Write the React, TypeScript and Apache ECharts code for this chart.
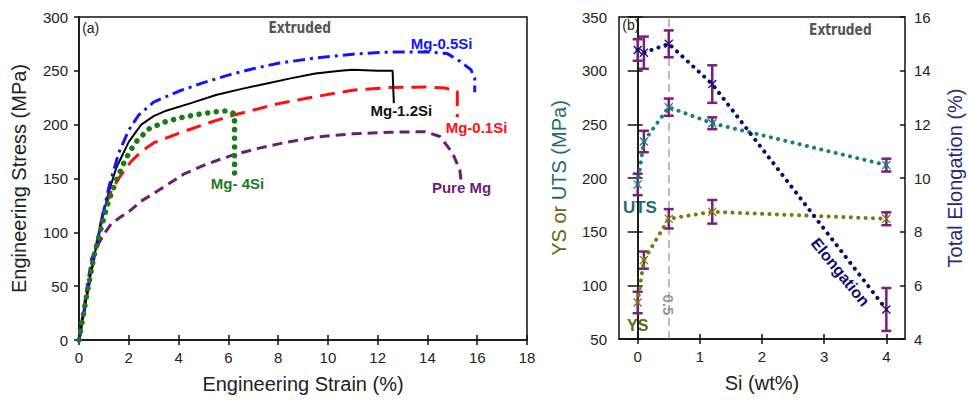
import React, { useEffect, useRef } from "react";
import * as echarts from "echarts";

// ---------- Panel (a): stress-strain curves ----------
const pureMgStrain = [0, 0.5, 0.8, 1.05, 1.3, 1.6, 2.1, 2.5, 3.2, 4.2, 5.2, 6.2, 7.2, 8.2, 9.5, 11.0, 12.5, 13.9, 14.5, 15.0, 15.3, 15.35];
const pureMgStress = [0, 75, 90, 100, 108, 113, 121, 129, 139, 154, 164, 172, 178, 183, 188.5, 191.5, 193, 193.5, 189, 174, 158, 148];

const mg01Strain = [0, 0.5, 0.95, 1.3, 1.65, 2.1, 2.5, 3.0, 4.0, 5.0, 6.0, 7.0, 8.0, 9.5, 11.0, 12.5, 14.0, 14.7, 15.2, 15.2];
const mg01Stress = [0, 65, 117, 139, 152, 166, 175, 183, 192, 200, 207.5, 213.5, 219.5, 226, 232, 234.5, 235, 234, 231, 207];

const mg05Strain = [0, 0.5, 0.9, 1.2, 1.6, 2.0, 2.4, 3.0, 4.0, 5.0, 6.0, 7.0, 8.0, 9.5, 11.0, 12.5, 14.0, 14.8, 15.3, 15.75, 15.9, 15.9];
const mg05Stress = [0, 65, 110, 142, 174, 195, 209, 221, 231, 239, 246, 252, 257, 262, 265.5, 267.5, 267.5, 266, 259, 251, 243, 230];

const mg12Strain = [0, 0.5, 0.9, 1.2, 1.5, 2.0, 2.5, 3.0, 3.5, 4.5, 5.5, 6.5, 7.5, 8.5, 9.5, 10.5, 11.0, 12.0, 12.6, 12.65];
const mg12Stress = [0, 65, 110, 138, 160, 184, 200, 208, 213, 220, 227.5, 233, 238, 243, 247.5, 250, 251, 250, 250, 220];

const mg4Strain = [0, 0.3, 0.6, 0.9, 1.2, 1.5, 1.85, 2.25, 2.8, 3.5, 4.2, 4.9, 5.5, 6.0, 6.25, 6.25];
const mg4Stress = [0, 40, 78, 105, 130, 148, 167, 183, 196, 203, 207, 210, 212, 213, 210, 155];

// ---------- Panel (b): properties vs Si ----------
const siWt = [0, 0.1, 0.5, 1.2, 4];
const uts = [194, 234, 266, 251, 212];
const utsErr = [10, 10, 8, 5.5, 6];
const ys = [84, 123.5, 162, 168.5, 162];
const ysErr = [10, 8, 9, 11, 6];
const elong = [14.77, 14.67, 15.0, 13.5, 5.1];
const elongErr = [0.4, 0.6, 0.5, 0.7, 0.8];
const siTicks = [0, 1, 2, 3, 4];

const FONT = "'Liberation Sans', Arial, sans-serif";
const C_BLUE = "#1414ff";
const C_RED = "#ff1010";
const C_PURPLE = "#6b1f72";
const C_GREEN = "#1c7a1c";
const C_TEAL = "#17807a";
const C_TEAL_T = "#1d6d6a";
const C_OLIVE = "#7a7a12";
const C_OLIVE_T = "#66660f";
const C_NAVY = "#0c0c6e";
const C_ERR = "#7b1f7e";

const zip = (a: number[], b: number[]) => a.map((v, i) => [v, b[i]]);
const X_SYMBOL = "path://M0,1 L1,0 L5,4 L9,0 L10,1 L6,5 L10,9 L9,10 L5,6 L1,10 L0,9 L4,5 Z";

const errRender = (params: any, api: any) => {
  const x = api.value(0);
  const lo = api.coord([x, api.value(1)]);
  const hi = api.coord([x, api.value(2)]);
  const w = 5;
  const st = { stroke: C_ERR, lineWidth: 2.5 };
  return {
    type: "group",
    children: [
      { type: "line", shape: { x1: lo[0], y1: lo[1], x2: hi[0], y2: hi[1] }, style: st },
      { type: "line", shape: { x1: lo[0] - w, y1: lo[1], x2: lo[0] + w, y2: lo[1] }, style: st },
      { type: "line", shape: { x1: hi[0] - w, y1: hi[1], x2: hi[0] + w, y2: hi[1] }, style: st },
    ],
  };
};

const labelStyle = { fontSize: 15, color: "#222", fontFamily: FONT };
const nameStyle = { fontSize: 20, color: "#222", fontFamily: FONT };
const axisLine = { show: true, lineStyle: { color: "#111", width: 1.5 } };

export default function App() {
  const ref = useRef<HTMLDivElement>(null);
  useEffect(() => {
    const chart = echarts.init(ref.current!, null, { renderer: "svg" });
    const dotLine = (color: string) => ({ color, width: 4, type: [0.1, 7.3], cap: "round" });
    const option: any = {
      animation: false,
      grid: [
        { left: 79, top: 17, width: 448, bottom: 60, show: true, borderColor: "#111", borderWidth: 1.5 },
        { left: 619, top: 17, width: 286, bottom: 61, show: true, borderColor: "#111", borderWidth: 1.5 },
      ],
      xAxis: [
        {
          type: "value", gridIndex: 0, min: 0, max: 18, interval: 2,
          name: "Engineering Strain (%)", nameLocation: "middle", nameGap: 34, nameTextStyle: nameStyle,
          axisLine, axisTick: { show: true, length: 5, lineStyle: { color: "#111", width: 1.5 } },
          axisLabel: { ...labelStyle, margin: 10 }, splitLine: { show: false },
        },
        {
          type: "value", gridIndex: 0, min: 0, max: 18, interval: 2, position: "bottom",
          axisLine: { show: false }, axisLabel: { show: false }, splitLine: { show: false },
          axisTick: { show: true, inside: true, length: 5, lineStyle: { color: "#111", width: 1.5 } },
        },
        {
          type: "value", gridIndex: 1, min: -0.3, max: 4.3,
          name: "Si (wt%)", nameLocation: "middle", nameGap: 34, nameTextStyle: nameStyle,
          axisLine, axisTick: { show: true, length: 5, customValues: siTicks, lineStyle: { color: "#111", width: 1.5 } },
          axisLabel: { ...labelStyle, margin: 10, customValues: siTicks }, splitLine: { show: false },
        },
        {
          type: "value", gridIndex: 1, min: -0.3, max: 4.3, position: "bottom",
          axisLine: { show: false }, axisLabel: { show: false }, splitLine: { show: false },
          axisTick: { show: true, inside: true, length: 5, customValues: siTicks, lineStyle: { color: "#111", width: 1.5 } },
        },
      ],
      yAxis: [
        {
          type: "value", gridIndex: 0, min: 0, max: 300, interval: 50,
          name: "Engineering Stress (MPa)", nameLocation: "middle", nameGap: 50, nameRotate: 90, nameTextStyle: nameStyle,
          axisLine, axisTick: { show: true, length: 5, lineStyle: { color: "#111", width: 1.5 } },
          axisLabel: { ...labelStyle, margin: 11 }, splitLine: { show: false },
        },
        {
          type: "value", gridIndex: 1, min: 50, max: 350, interval: 50, position: "left",
          name: "{a|YS or }{b|UTS (MPa)}", nameLocation: "middle", nameGap: 50, nameRotate: 90,
          nameTextStyle: {
            ...nameStyle,
            rich: {
              a: { fontSize: 20, color: C_OLIVE_T, fontFamily: FONT },
              b: { fontSize: 20, color: C_TEAL_T, fontFamily: FONT },
            },
          },
          axisLine, axisTick: { show: true, length: 10, lineStyle: { color: "#111", width: 1.5 } },
          axisLabel: { ...labelStyle, margin: 12 }, splitLine: { show: false },
        },
        {
          type: "value", gridIndex: 1, min: 4, max: 16, interval: 2, position: "right",
          name: "Total Elongation (%)", nameLocation: "middle", nameGap: 40, nameRotate: 90,
          nameTextStyle: { ...nameStyle, color: "#2a2a7a" },
          axisLine, axisTick: { show: true, length: 5, lineStyle: { color: "#111", width: 1.5 } },
          axisLabel: { ...labelStyle, margin: 9 }, splitLine: { show: false },
        },
        {
          type: "value", gridIndex: 1, min: 4, max: 16, interval: 2, position: "right",
          axisLine: { show: false }, axisLabel: { show: false }, splitLine: { show: false },
          axisTick: { show: true, inside: true, length: 5, lineStyle: { color: "#111", width: 1.5 } },
        },
      ],
      series: [
        {
          type: "line", xAxisIndex: 0, yAxisIndex: 0, data: zip(pureMgStrain, pureMgStress), showSymbol: false,
          lineStyle: { color: C_PURPLE, width: 3, type: [10, 6] },
        },
        {
          type: "line", xAxisIndex: 0, yAxisIndex: 0, data: zip(mg01Strain, mg01Stress), showSymbol: false,
          lineStyle: { color: C_RED, width: 3, type: [15, 8] },
        },
        {
          type: "line", xAxisIndex: 0, yAxisIndex: 0, data: zip(mg12Strain, mg12Stress), showSymbol: false,
          lineStyle: { color: "#000", width: 2 },
        },
        {
          type: "line", xAxisIndex: 0, yAxisIndex: 0, data: zip(mg05Strain, mg05Stress), showSymbol: false,
          lineStyle: { color: C_BLUE, width: 3, type: [12, 5, 3, 5] },
        },
        {
          type: "line", xAxisIndex: 0, yAxisIndex: 0, data: zip(mg4Strain, mg4Stress), showSymbol: false,
          lineStyle: { color: C_GREEN, width: 5.5, type: [0.1, 8.6], cap: "round" },
        },
        // Panel b error bars
        {
          type: "custom", xAxisIndex: 2, yAxisIndex: 1, renderItem: errRender, encode: { x: 0, y: [1, 2] }, z: 1,
          data: siWt.map((x, i) => [x, uts[i] - utsErr[i], uts[i] + utsErr[i]]),
        },
        {
          type: "custom", xAxisIndex: 2, yAxisIndex: 1, renderItem: errRender, encode: { x: 0, y: [1, 2] }, z: 1,
          data: siWt.map((x, i) => [x, ys[i] - ysErr[i], ys[i] + ysErr[i]]),
        },
        {
          type: "custom", xAxisIndex: 2, yAxisIndex: 2, renderItem: errRender, encode: { x: 0, y: [1, 2] }, z: 1,
          data: siWt.map((x, i) => [x, elong[i] - elongErr[i], elong[i] + elongErr[i]]),
        },
        {
          type: "line", xAxisIndex: 2, yAxisIndex: 1, data: zip(siWt, uts), z: 3,
          symbol: X_SYMBOL, symbolSize: 9, itemStyle: { color: C_TEAL }, lineStyle: dotLine(C_TEAL),
          markLine: {
            silent: true, symbol: "none", label: { show: false }, z: 0,
            lineStyle: { color: "#bbbbbb", type: [8, 5], width: 2 },
            data: [{ xAxis: 0.5 }],
          },
        },
        {
          type: "line", xAxisIndex: 2, yAxisIndex: 1, data: zip(siWt, ys), z: 3,
          symbol: X_SYMBOL, symbolSize: 9, itemStyle: { color: C_OLIVE }, lineStyle: dotLine(C_OLIVE),
        },
        {
          type: "line", xAxisIndex: 2, yAxisIndex: 2, data: zip(siWt, elong), z: 3,
          symbol: X_SYMBOL, symbolSize: 9, itemStyle: { color: C_NAVY }, lineStyle: dotLine(C_NAVY),
        },
      ],
    };
    chart.setOption(option);

    const pA = (x: number, y: number) => chart.convertToPixel({ seriesIndex: 0 }, [x, y]) as number[];
    const pB = (x: number, y: number) => chart.convertToPixel({ seriesIndex: 8 }, [x, y]) as number[];
    const txt = (p: number[], text: string, fill: string, size: number, weight = "bold", rotation = 0, family = FONT, scaleX = 1) => ({
      type: "text", x: p[0], y: p[1], rotation, scaleX, silent: true,
      style: { text, fill, fontSize: size, fontWeight: weight, fontFamily: family, align: "center", verticalAlign: "middle" },
    });
    const COND = "'DejaVu Sans Condensed', 'DejaVu Sans', sans-serif";
    chart.setOption({
      graphic: [
        txt(pA(0.47, 289.8), "(a)", "#222", 14, "normal"),
        txt(pA(8.87, 290.7), "Extruded", "#555", 16, "bold", 0, COND, 0.85),
        txt(pA(14.57, 275.8), "Mg-0.5Si", C_BLUE, 15),
        txt(pA(12.95, 213.6), "Mg-1.2Si", "#111", 15),
        txt(pA(15.97, 197.8), "Mg-0.1Si", C_RED, 15),
        txt(pA(15.37, 141.2), "Pure Mg", C_PURPLE, 15),
        txt(pA(6.37, 145.8), "Mg- 4Si", C_GREEN, 15),
        txt(pB(-0.108, 342.3), "(b)", "#222", 14, "normal"),
        txt(pB(3.26, 338.5), "Extruded", "#555", 16, "bold", 0, COND, 0.85),
        txt(pB(0.037, 172.9), "UTS", C_TEAL_T, 17),
        txt(pB(0.0, 63), "YS", C_OLIVE_T, 16),
        txt(pB(3.26, 112.4), "Elongation", C_NAVY, 16, "bold", -0.89),
        txt(pB(0.5, 81.7), "0.5", "#999", 15, "bold", -Math.PI / 2),
      ],
    });
    return () => chart.dispose();
  }, []);
  return <div ref={ref} style={{ position: "absolute", left: 0, top: 0, width: 969, height: 400 }} />;
}
